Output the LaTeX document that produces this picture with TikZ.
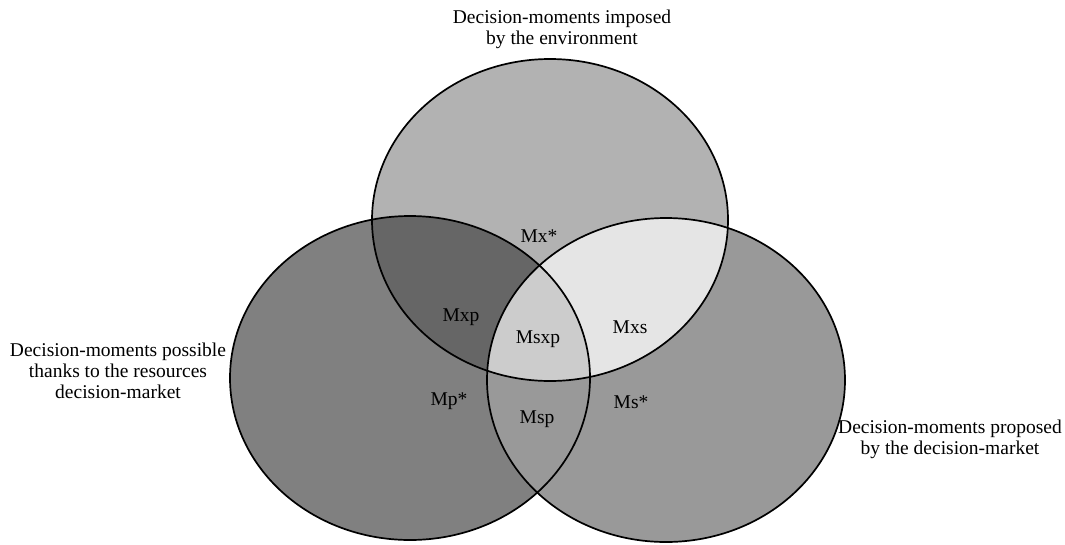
\documentclass[tikz,border=0pt]{standalone}
\usepackage{fontspec}
\setmainfont{Liberation Serif}
\definecolor{gA}{gray}{0.502}
\definecolor{gB}{gray}{0.60}
\definecolor{gC}{gray}{0.698}
\definecolor{gD}{gray}{0.40}
\definecolor{gE}{gray}{0.898}
\definecolor{gF}{gray}{0.80}
\begin{document}
\begin{tikzpicture}[x=1pt,y=-1pt,
  lab/.style={font=\fontsize{19.5}{21}\selectfont, inner sep=0pt, text=black},
  title/.style={lab, align=center},
  outline/.style={draw=black, line width=1.7pt},
  topE/.style={insert path={(550,220) ellipse [x radius=178, y radius=161]}},
  leftE/.style={insert path={(410,378) ellipse [x radius=180, y radius=162]}},
  rightE/.style={insert path={(666,380) ellipse [x radius=179, y radius=162]}}]
\useasboundingbox (0,0) rectangle (1065,544);
\fill[white] (0,0) rectangle (1065,544);
% base fills
\fill[gA, leftE];
\fill[gB, rightE];
\fill[gC, topE];
\begin{scope}
  \clip[topE];
  \fill[gD, leftE];
  \fill[gE, rightE];
  \clip[leftE];
  \fill[gF, rightE];
\end{scope}
% outlines
\path[outline, leftE];
\path[outline, rightE];
\path[outline, topE];
% region labels
\node[lab] (mx)   at (539,236) {Mx*};
\node[lab] (mxp)  at (461,317) {Mxp};
\node[lab] (msxp) at (538,339) {Msxp};
\node[lab] (mxs)  at (630,327) {Mxs};
\node[lab] (mp)   at (449,401) {Mp*};
\node[lab] (ms)   at (631,402) {Ms*};
\node[lab] (msp)  at (537,419) {Msp};
% titles
\node[title] (ttop)   at (562,29)  {Decision-moments imposed\\by the environment};
\node[title] (tleft)  at (118,371) {Decision-moments possible\\thanks to the resources\\decision-market};
\node[title] (tright) at (950,439) {Decision-moments proposed\\by the decision-market};
\end{tikzpicture}
\end{document}
